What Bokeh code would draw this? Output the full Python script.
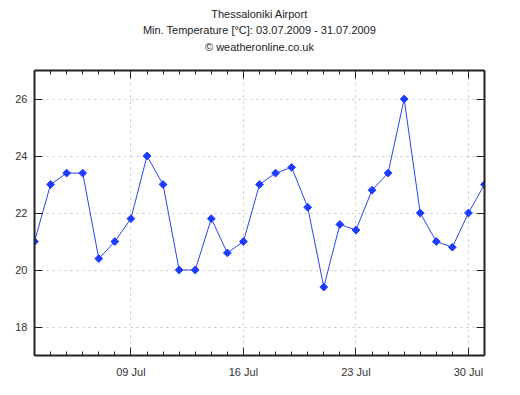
from bokeh.plotting import figure
from bokeh.models import (Range1d, FixedTicker, LinearAxis, Title, ColumnDataSource)
from bokeh.embed import file_html
from bokeh.resources import INLINE

# ---- data ----
days = [3, 4, 5, 6, 7, 8, 9, 10, 11, 12, 13, 14, 15, 16, 17, 18, 19, 20,
        21, 22, 23, 24, 25, 26, 27, 28, 29, 30, 31]
min_temp = [21.0, 23.0, 23.4, 23.4, 20.4, 21.0, 21.8, 24.0, 23.0, 20.0, 20.0,
            21.8, 20.6, 21.0, 23.0, 23.4, 23.6, 22.2, 19.4, 21.6, 21.4, 22.8,
            23.4, 26.0, 22.0, 21.0, 20.8, 22.0, 23.0]
x_tick_days = [9, 16, 23, 30]
x_tick_labels = ["09 Jul", "16 Jul", "23 Jul", "30 Jul"]
y_ticks = [18, 20, 22, 24, 26]
title_lines = ["Thessaloniki Airport",
               "Min. Temperature [°C]: 03.07.2009 - 31.07.2009",
               "© weatheronline.co.uk"]

FONT = "Liberation Sans"
AX = "#222222"
TXT = "#222222"

src = ColumnDataSource(dict(x=days, y=min_temp))

p = figure(width=512, height=387, output_backend="svg", toolbar_location=None,
           x_range=Range1d(3, 31), y_range=Range1d(17, 27),
           min_border_left=34, min_border_right=28, min_border_top=70,
           min_border_bottom=32, x_axis_location=None, y_axis_location=None)
p.outline_line_color = None
p.background_fill_color = "white"
p.border_fill_color = "white"


def style_axis(ax):
    ax.axis_line_color = AX
    ax.axis_line_width = 2
    ax.major_tick_line_color = AX
    ax.minor_tick_line_color = AX
    ax.major_tick_out = 0
    ax.minor_tick_out = 0
    ax.major_label_text_font = FONT
    ax.major_label_text_font_size = "11px"
    ax.major_label_text_color = "#333333"


day_minor = list(range(days[0], days[-1] + 1))

xb = LinearAxis(ticker=FixedTicker(ticks=x_tick_days, minor_ticks=day_minor))
style_axis(xb)
xb.major_tick_in = 8
xb.minor_tick_in = 4
xb.major_label_standoff = 10
xb.major_label_overrides = {d: l for d, l in zip(x_tick_days, x_tick_labels)}
p.add_layout(xb, "below")

yl = LinearAxis(ticker=FixedTicker(ticks=y_ticks, minor_ticks=[]))
style_axis(yl)
yl.major_tick_in = 8
yl.major_label_standoff = 7
p.add_layout(yl, "left")

yr = LinearAxis(ticker=FixedTicker(ticks=y_ticks, minor_ticks=[]))
style_axis(yr)
yr.major_tick_in = 8
yr.major_label_standoff = 0
yr.major_label_overrides = {t: "" for t in y_ticks}
p.add_layout(yr, "right")

# top axis: inner ticks, and the third title line as its axis label
xt = LinearAxis(ticker=FixedTicker(ticks=x_tick_days, minor_ticks=day_minor))
style_axis(xt)
xt.major_tick_in = 8
xt.minor_tick_in = 4
xt.major_label_standoff = 0
xt.major_label_overrides = {t: "" for t in x_tick_days}
xt.axis_label = title_lines[2]
xt.axis_label_standoff = 18
xt.axis_label_text_font = FONT
xt.axis_label_text_font_size = "11px"
xt.axis_label_text_font_style = "normal"
xt.axis_label_text_color = TXT
p.add_layout(xt, "above")

for line, so in [(title_lines[1], 4), (title_lines[0], 0)]:
    t = Title(text=line, align="center", text_font=FONT, text_font_size="11px",
              text_font_style="normal", text_color=TXT, standoff=so)
    p.add_layout(t, "above")

p.xgrid.ticker = FixedTicker(ticks=x_tick_days)
p.ygrid.ticker = FixedTicker(ticks=y_ticks)
for g in (p.xgrid, p.ygrid):
    g.grid_line_color = "#c4c4c4"
    g.grid_line_dash = "2 4"
    g.grid_line_width = 1

p.line("x", "y", source=src, line_color="#2a45e8", line_width=1)
p.scatter("x", "y", source=src, marker="square", size=5.5, angle=0.785398,
          fill_color="#1e3cff", line_color="#1e3cff")

open("out.html", "w").write(file_html(p, INLINE))
